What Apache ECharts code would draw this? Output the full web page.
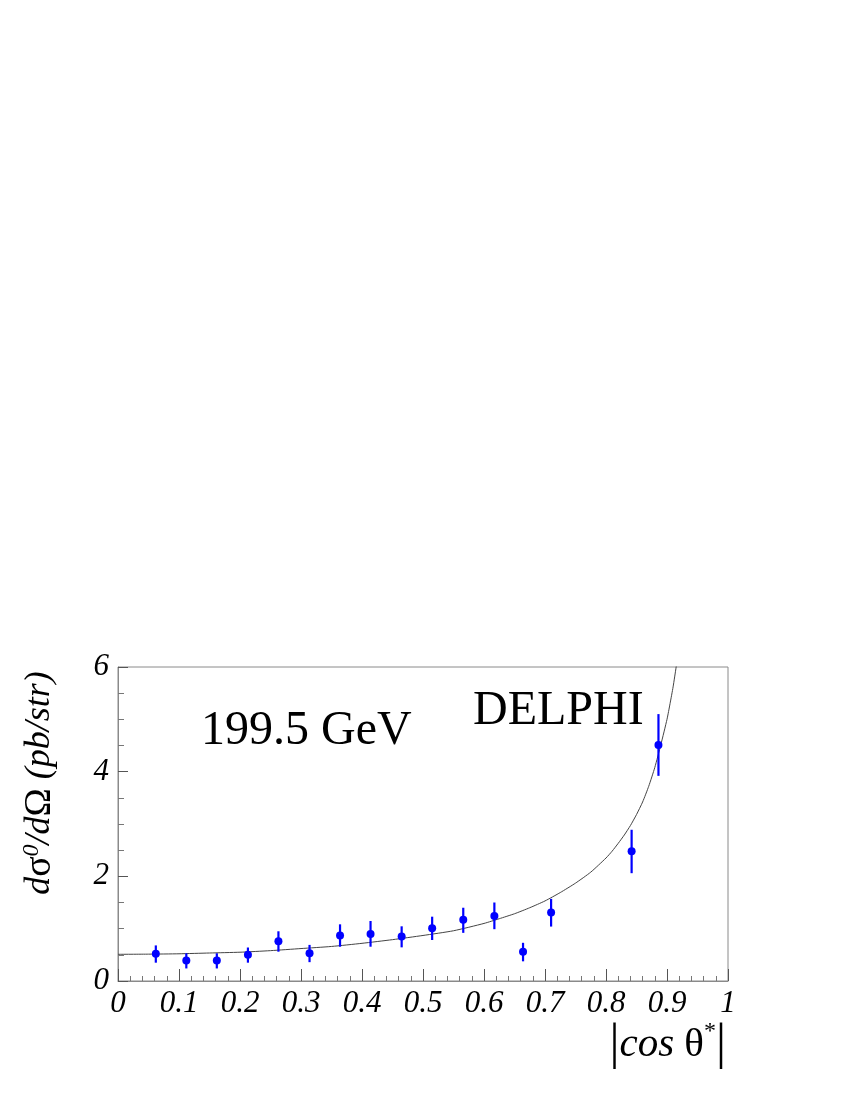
<!DOCTYPE html>
<html>
<head>
<meta charset="utf-8">
<script src="https://cdn.jsdelivr.net/npm/echarts@6/dist/echarts.min.js"></script>
<style>
  html, body { margin: 0; padding: 0; background: #fff; }
  #chart { width: 850px; height: 1100px; }
</style>
</head>
<body>
<div id="chart"></div>
<script>
// measured points: |cos theta*| and d sigma / d Omega (pb/str)
const cosX   = [0.062, 0.112, 0.162, 0.213, 0.263, 0.314, 0.364, 0.414, 0.465, 0.515, 0.566, 0.617, 0.664, 0.710, 0.842, 0.886];
const sigma  = [0.52, 0.39, 0.39, 0.50, 0.76, 0.53, 0.87, 0.90, 0.85, 1.01, 1.17, 1.24, 0.56, 1.31, 2.48, 4.51];
const errLo  = [0.35, 0.24, 0.24, 0.35, 0.56, 0.36, 0.655, 0.655, 0.643, 0.783, 0.92, 0.99, 0.376, 1.04, 2.06, 3.92];
const errHi  = [0.68, 0.53, 0.53, 0.64, 0.95, 0.69, 1.083, 1.147, 1.045, 1.229, 1.40, 1.50, 0.73, 1.57, 2.89, 5.10];

// theory curve
const curveX = [0, 0.05, 0.1, 0.15, 0.2, 0.25, 0.3, 0.35, 0.4, 0.45, 0.5, 0.55, 0.6, 0.625, 0.65, 0.675, 0.7, 0.725, 0.75, 0.775, 0.8,
                0.81, 0.82, 0.83, 0.84, 0.85, 0.86, 0.87, 0.88, 0.89, 0.9, 0.905, 0.91, 0.915, 0.92];
const curveY = [0.51, 0.513, 0.52, 0.535, 0.55, 0.58, 0.62, 0.66, 0.72, 0.79, 0.87, 0.96, 1.10, 1.19, 1.285, 1.40, 1.53, 1.69, 1.87, 2.08, 2.35,
                2.48, 2.63, 2.79, 2.97, 3.18, 3.42, 3.72, 4.08, 4.52, 5.0, 5.3, 5.62, 6.0, 6.4];

const xTicks = [0, 0.1, 0.2, 0.3, 0.4, 0.5, 0.6, 0.7, 0.8, 0.9, 1];
const yTicks = [0, 2, 4, 6];

const serif = 'Liberation Serif';
const frame = '#8a8a8a';

const chart = echarts.init(document.getElementById('chart'));

const option = {
  animation: false,
  backgroundColor: '#fff',
  grid: {
    left: 118, right: 122, top: 667, bottom: 119,
    show: true, borderColor: frame, borderWidth: 1, backgroundColor: 'transparent'
  },
  xAxis: {
    type: 'value', min: xTicks[0], max: xTicks[xTicks.length - 1], interval: 0.1,
    axisLine: {lineStyle: {color: frame, width: 1}},
    axisTick: {inside: true, length: 12, lineStyle: {color: '#555'}},
    minorTick: {show: true, splitNumber: 5, length: 5, lineStyle: {color: '#777'}},
    splitLine: {show: false},
    axisLabel: {
      color: '#000', fontFamily: serif, fontStyle: 'italic', fontSize: 31, margin: 7,
      formatter: v => (v === 0 || v === 1) ? String(v) : v.toFixed(1)
    }
  },
  yAxis: {
    type: 'value', min: yTicks[0], max: yTicks[yTicks.length - 1], interval: 2,
    axisLine: {show: true, lineStyle: {color: frame, width: 1}},
    axisTick: {show: true, inside: true, length: 10, lineStyle: {color: '#555'}},
    minorTick: {show: true, splitNumber: 4, length: 6, lineStyle: {color: '#777'}},
    splitLine: {show: false},
    axisLabel: {color: '#000', fontFamily: serif, fontStyle: 'italic', fontSize: 31, margin: 9}
  },
  series: [
    {
      type: 'line',
      data: curveX.map((x, i) => [x, curveY[i]]),
      showSymbol: false,
      smooth: 0.2,
      clip: true,
      lineStyle: {color: '#444', width: 1},
      z: 2
    },
    {
      type: 'custom',
      data: cosX.map((x, i) => [x, errLo[i], errHi[i]]),
      renderItem: (params, api) => {
        const p1 = api.coord([api.value(0), api.value(1)]);
        const p2 = api.coord([api.value(0), api.value(2)]);
        return {
          type: 'line',
          shape: {x1: p1[0], y1: p1[1], x2: p2[0], y2: p2[1]},
          style: {stroke: '#0000ff', lineWidth: 2.2}
        };
      },
      z: 3
    },
    {
      type: 'scatter',
      data: cosX.map((x, i) => [x, sigma[i]]),
      symbol: 'circle',
      symbolSize: 8,
      itemStyle: {color: '#0000ff', opacity: 1},
      z: 4
    }
  ],
  graphic: [
    {
      type: 'text', left: 201, top: 707,
      style: {text: '199.5 GeV', fontFamily: serif, fontSize: 48, fill: '#000'}
    },
    {
      type: 'text', left: 473, top: 687,
      style: {text: 'DELPHI', fontFamily: serif, fontSize: 48, fill: '#000'}
    },
    {
      type: 'text', x: 40, y: 783, rotation: Math.PI / 2,
      style: {
        text: '{i|d}{g|σ}{s|0}{i|/d}{g|Ω}{i| (pb/str)}',
        align: 'center', verticalAlign: 'middle',
        rich: {
          i: {fontFamily: serif, fontStyle: 'italic', fontSize: 36, lineHeight: 40, fill: '#000'},
          g: {fontFamily: serif, fontSize: 38, lineHeight: 40, fill: '#000'},
          s: {fontFamily: serif, fontStyle: 'italic', fontSize: 24, lineHeight: 22, verticalAlign: 'top', fill: '#000'}
        }
      }
    },
    {
      type: 'text', x: 726, y: 1045,
      style: {
        text: '{b||}{i|cos }{g|θ}{s|*}{b||}',
        align: 'right', verticalAlign: 'middle',
        rich: {
          b: {fontFamily: serif, fontSize: 50, lineHeight: 50, fill: '#000'},
          i: {fontFamily: serif, fontStyle: 'italic', fontSize: 41, lineHeight: 50, fill: '#000'},
          g: {fontFamily: serif, fontSize: 41, lineHeight: 50, fill: '#000'},
          s: {fontFamily: serif, fontSize: 24, lineHeight: 22, verticalAlign: 'top', fill: '#000'}
        }
      }
    }
  ]
};

chart.setOption(option);
</script>
</body>
</html>
